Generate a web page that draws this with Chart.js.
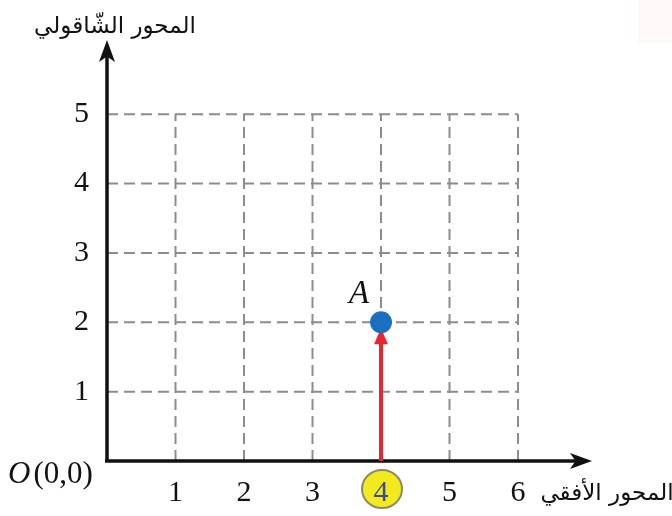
<!DOCTYPE html>
<html>
<head>
<meta charset="utf-8">
<script src="https://cdn.jsdelivr.net/npm/chart.js@4/dist/chart.umd.min.js"></script>
<style>
  html, body { margin: 0; padding: 0; background: #fff; }
  #wrap { width: 672px; height: 516px; }
</style>
</head>
<body>
<div id="wrap"><canvas id="c"></canvas></div>
<script>
// axis ticks and ranges
const xTicks = [1, 2, 3, 4, 5, 6];
const yTicks = [1, 2, 3, 4, 5];
const gridX = [0, 6];
const gridY = [0, 5];
const xRange = [0, 7.08];
const yRange = [0, 6.07];

// the point and its projection
const pointA = { x: 4, y: 2, label: 'A' };
const highlightTick = 4;

// labels
const xTitle = 'المحور الأفقي';
const yTitle = 'المحور الشّاقولي';

const ink = '#111';
const serif = '"Liberation Serif", "DejaVu Serif", serif';
const arabic = '"DejaVu Sans", sans-serif';

function arrowHead(ctx, x, y, dir, len, half) {
    // dir: 'up' or 'right'
    ctx.beginPath();
    if (dir === 'up') {
        ctx.moveTo(x, y);
        ctx.lineTo(x - half, y + len);
        ctx.lineTo(x, y + len * 0.75);
        ctx.lineTo(x + half, y + len);
    } else {
        ctx.moveTo(x, y);
        ctx.lineTo(x - len, y - half);
        ctx.lineTo(x - len * 0.75, y);
        ctx.lineTo(x - len, y + half);
    }
    ctx.closePath();
    ctx.fill();
}

// yellow badge behind the highlighted tick + faint corner patch
const badgePlugin = {
    id: 'badge',
    beforeDraw(chart) {
        const { ctx, scales: { x, y } } = chart;
        ctx.save();
        ctx.fillStyle = '#fcf9f8';
        ctx.fillRect(638, 0, 34, 43);
        const cx = x.getPixelForValue(highlightTick) + 1;
        const cy = y.getPixelForValue(0) + 28;
        ctx.beginPath();
        ctx.ellipse(cx, cy, 20, 19, 0, 0, Math.PI * 2);
        ctx.fillStyle = '#f2ea1c';
        ctx.fill();
        ctx.lineWidth = 2;
        ctx.strokeStyle = '#8a8a6a';
        ctx.stroke();
        ctx.restore();
    }
};

// dashed grid, axes with arrows, the red projection arrow
const gridPlugin = {
    id: 'grid',
    beforeDatasetsDraw(chart) {
        const { ctx, chartArea, scales: { x, y } } = chart;
        const x0 = x.getPixelForValue(gridX[0]), x1 = x.getPixelForValue(gridX[1]);
        const y0 = y.getPixelForValue(gridY[0]), y1 = y.getPixelForValue(gridY[1]);
        ctx.save();
        ctx.strokeStyle = '#8c8c8c';
        ctx.lineWidth = 2;
        ctx.setLineDash([11, 6]);
        xTicks.forEach(v => {
            const px = x.getPixelForValue(v);
            ctx.beginPath(); ctx.moveTo(px, y0); ctx.lineTo(px, y1); ctx.stroke();
        });
        yTicks.forEach(v => {
            const py = y.getPixelForValue(v);
            ctx.beginPath(); ctx.moveTo(x0, py); ctx.lineTo(x1, py); ctx.stroke();
        });
        ctx.setLineDash([]);

        // axes
        ctx.strokeStyle = ink;
        ctx.fillStyle = ink;
        ctx.lineWidth = 3.5;
        ctx.beginPath();
        ctx.moveTo(x0, y0); ctx.lineTo(x0, chartArea.top + 12);
        ctx.moveTo(x0 - 2, y0); ctx.lineTo(chartArea.right - 12, y0);
        ctx.stroke();
        arrowHead(ctx, x0, chartArea.top, 'up', 22, 8);
        arrowHead(ctx, chartArea.right, y0, 'right', 22, 8);

        // red arrow from the x axis up to A
        const ax = x.getPixelForValue(pointA.x);
        const ay = y.getPixelForValue(pointA.y);
        ctx.strokeStyle = '#e8262b';
        ctx.fillStyle = '#e8262b';
        ctx.lineWidth = 4;
        ctx.beginPath();
        ctx.moveTo(ax, y0); ctx.lineTo(ax, ay + 20);
        ctx.stroke();
        ctx.beginPath();
        ctx.moveTo(ax, ay + 6);
        ctx.lineTo(ax - 7, ay + 22);
        ctx.lineTo(ax + 7, ay + 22);
        ctx.closePath();
        ctx.fill();
        ctx.restore();
    },
    afterDatasetsDraw(chart) {
        const { ctx, scales: { x, y } } = chart;
        const ax = x.getPixelForValue(pointA.x);
        const ay = y.getPixelForValue(pointA.y);
        ctx.save();
        ctx.fillStyle = ink;
        ctx.textBaseline = 'middle';
        ctx.textAlign = 'center';
        ctx.font = 'italic 33px ' + serif;
        ctx.fillText(pointA.label, ax - 22, ay - 28);

        // origin label
        const y0 = y.getPixelForValue(0);
        ctx.textAlign = 'left';
        ctx.font = 'italic 31px ' + serif;
        ctx.fillText('O', 8, y0 + 14);
        const ow = ctx.measureText('O').width;
        ctx.font = '31px ' + serif;
        ctx.fillText('(0,0)', 8 + ow + 3, y0 + 14);

        // axis titles
        ctx.font = '23px ' + arabic;
        ctx.textAlign = 'center';
        ctx.fillText(yTitle, 115, 27);
        ctx.fillText(xTitle, 607, 494);
        ctx.restore();
    }
};

new Chart(document.getElementById('c'), {
    type: 'scatter',
    data: {
        datasets: [{
            data: [{ x: pointA.x, y: pointA.y }],
            pointRadius: 11,
            pointHoverRadius: 11,
            pointBackgroundColor: '#1c6fc0',
            pointBorderWidth: 0
        }]
    },
    options: {
        responsive: true,
        maintainAspectRatio: false,
        animation: false,
        layout: { padding: { top: 40, right: 80, left: 0, bottom: 0 } },
        plugins: { legend: { display: false }, tooltip: { enabled: false } },
        scales: {
            x: {
                type: 'linear',
                min: xRange[0], max: xRange[1],
                afterBuildTicks: s => { s.ticks = xTicks.map(v => ({ value: v })); },
                afterFit: s => { s.height = 55; },
                grid: { display: false, drawTicks: false },
                border: { display: false },
                ticks: {
                    padding: 14,
                    font: { family: serif, size: 30 },
                    color: c => c.tick && c.tick.value === highlightTick ? '#3a4a9e' : ink
                }
            },
            y: {
                type: 'linear',
                min: yRange[0], max: yRange[1],
                afterBuildTicks: s => { s.ticks = yTicks.map(v => ({ value: v })); },
                afterFit: s => { s.width = 107; },
                grid: { display: false, drawTicks: false },
                border: { display: false },
                ticks: {
                    padding: 18,
                    font: { family: serif, size: 30 },
                    color: ink
                }
            }
        }
    },
    plugins: [badgePlugin, gridPlugin]
});
</script>
</body>
</html>
